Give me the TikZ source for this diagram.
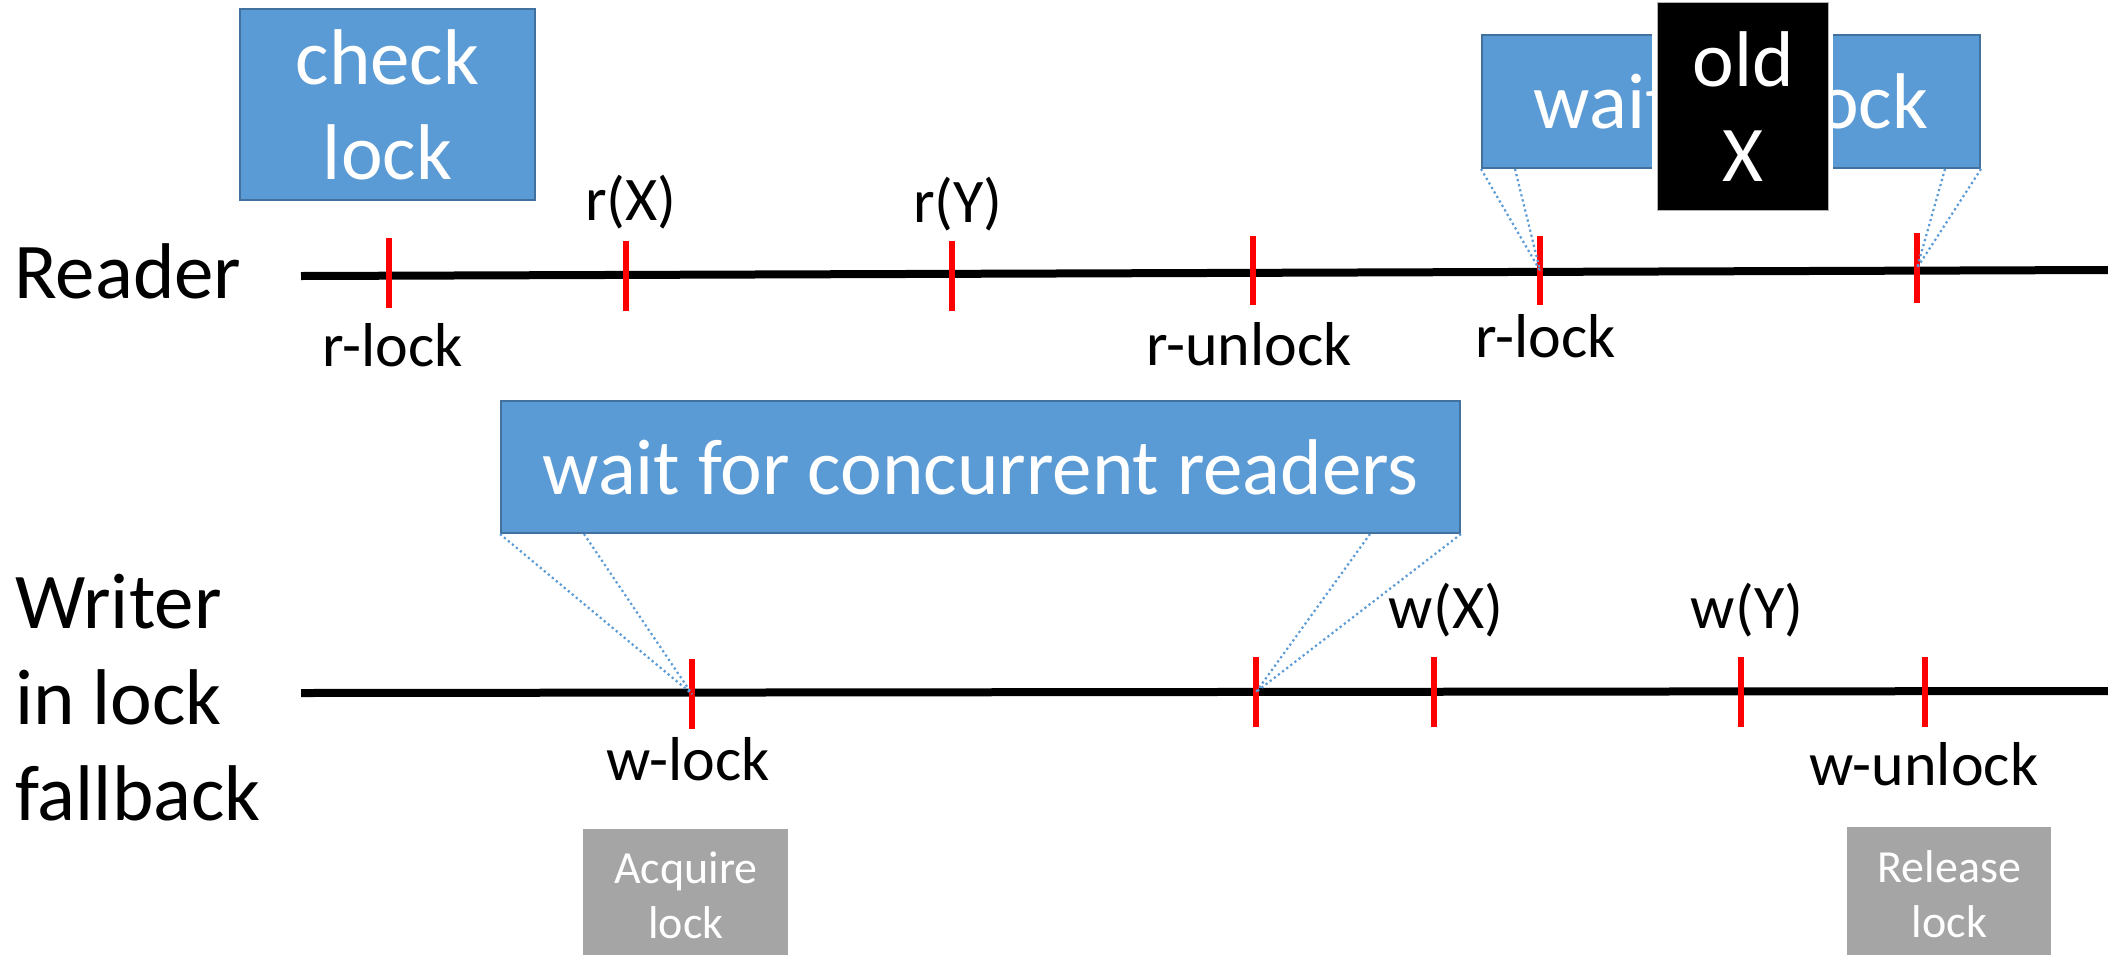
\documentclass[tikz,border=0pt]{standalone}
\usepackage{fontspec}
\setmainfont{Carlito}
\usetikzlibrary{calc}
\definecolor{boxblue}{HTML}{5B9BD5}
\definecolor{boxedge}{HTML}{41719C}
\definecolor{boxgray}{HTML}{A5A5A5}
\definecolor{tickred}{HTML}{FF0000}
\begin{document}
\begin{tikzpicture}[x=0.5pt,y=-0.5pt,
  bigfont/.style={font=\fontsize{39.5}{47.5}\selectfont},
  rowfont/.style={font=\fontsize{39.5}{48}\selectfont},
  lblfont/.style={font=\fontsize{31}{37}\selectfont},
  smallfont/.style={font=\fontsize{23}{27.5}\selectfont},
  bluebox/.style={draw=boxedge, line width=1pt, fill=boxblue, text=white, bigfont, align=center, inner sep=0pt, anchor=north west},
  graybox/.style={fill=boxgray, text=white, smallfont, align=center, inner sep=0pt, anchor=north west},
  blackbox/.style={fill=black, draw=gray!60, line width=0.6pt, text=white, bigfont, align=center, inner sep=0pt, anchor=north west},
  lbl/.style={lblfont, inner sep=0pt, anchor=base},
  rowlbl/.style={rowfont, inner sep=0pt, anchor=base west, align=left},
  timeline/.style={line width=4pt, black},
  tickmark/.style={line width=3pt, tickred},
  guide/.style={boxblue, line width=1.1pt, dash pattern=on 1.1pt off 1.5pt},
]
\useasboundingbox (0,0) rectangle (2108,954);

% row labels
\node[rowlbl] (reader) at (14,298) {Reader};
\node[rowlbl] (writer) at (15,820) {Writer\\in lock\\fallback};

% timelines
\coordinate (rs) at (301,276);
\coordinate (re) at (2108,270);
\coordinate (ws) at (301,693);
\coordinate (we) at (2108,691);
\draw[timeline] (rs) -- (re);
\draw[timeline] (ws) -- (we);

% reader ticks
\foreach \n/\x/\a/\b in {1/389/238/308, 2/626/241/311, 3/952/241/311, 4/1253/236/305, 5/1540/236/305, 6/1917/233/303}{
  \coordinate (rt\n) at (\x,{(\a+\b)/2});
  \draw[tickmark] (\x,\a) -- (\x,\b);
}
% writer ticks
\foreach \n/\x/\a/\b in {1/692/659/729, 2/1256/657/727, 3/1434/657/727, 4/1741/657/727, 5/1925/657/727}{
  \coordinate (wt\n) at (\x,{(\a+\b)/2});
  \draw[tickmark] (\x,\a) -- (\x,\b);
}

% tick labels
\node[lbl] (lrlock) at (393,366) {r-lock};
\node[lbl] (lrx) at (631,220) {r(X)};
\node[lbl] (lry) at (958,222) {r(Y)};
\node[lbl] (lrunlock) at (1249,365) {r-unlock};
\node[lbl] (lrlock2) at (1546,357) {r-lock};
\node[lbl] (lwlock) at (688,780) {w-lock};
\node[lbl] (lwx) at (1446,628) {w(X)};
\node[lbl] (lwy) at (1747,628) {w(Y)};
\node[lbl] (lwunlock) at (1924,785) {w-unlock};

% boxes
\node[bluebox, minimum width=147.5pt, minimum height=95.5pt] (check) at (239,8) {check\\lock};
\node[bluebox, minimum width=249pt, minimum height=66.5pt] (wlock) at (1481,34) {wait for lock};
\node[fill=white, inner sep=0pt, anchor=north west, minimum width=90.5pt, minimum height=112pt] (gap) at (1652,-10) {};
\node[blackbox, minimum width=85.5pt, minimum height=104pt] (oldx) at (1657,2) {old\\X};
\node[bluebox, minimum width=479.5pt, minimum height=66pt] (conc) at (500,400) {wait for concurrent readers};
\node[graybox, minimum width=102.5pt, minimum height=65.5pt] (acq) at (583,829) {Acquire\\lock};
\node[graybox, minimum width=102pt, minimum height=66.5pt] (rel) at (1847,827) {Release\\lock};

% dotted guides
\draw[guide] (wlock.south west) -- (rt5);
\draw[guide] ($(wlock.south west)+(34,0)$) -- (rt5);
\draw[guide] ($(wlock.south east)+(-36,0)$) -- (rt6);
\draw[guide] (wlock.south east) -- (rt6);
\draw[guide] (conc.south west) -- (wt1);
\draw[guide] ($(conc.south west)+(84,0)$) -- (wt1);
\draw[guide] ($(conc.south east)+(-91,0)$) -- (wt2);
\draw[guide] (conc.south east) -- (wt2);
\end{tikzpicture}
\end{document}
